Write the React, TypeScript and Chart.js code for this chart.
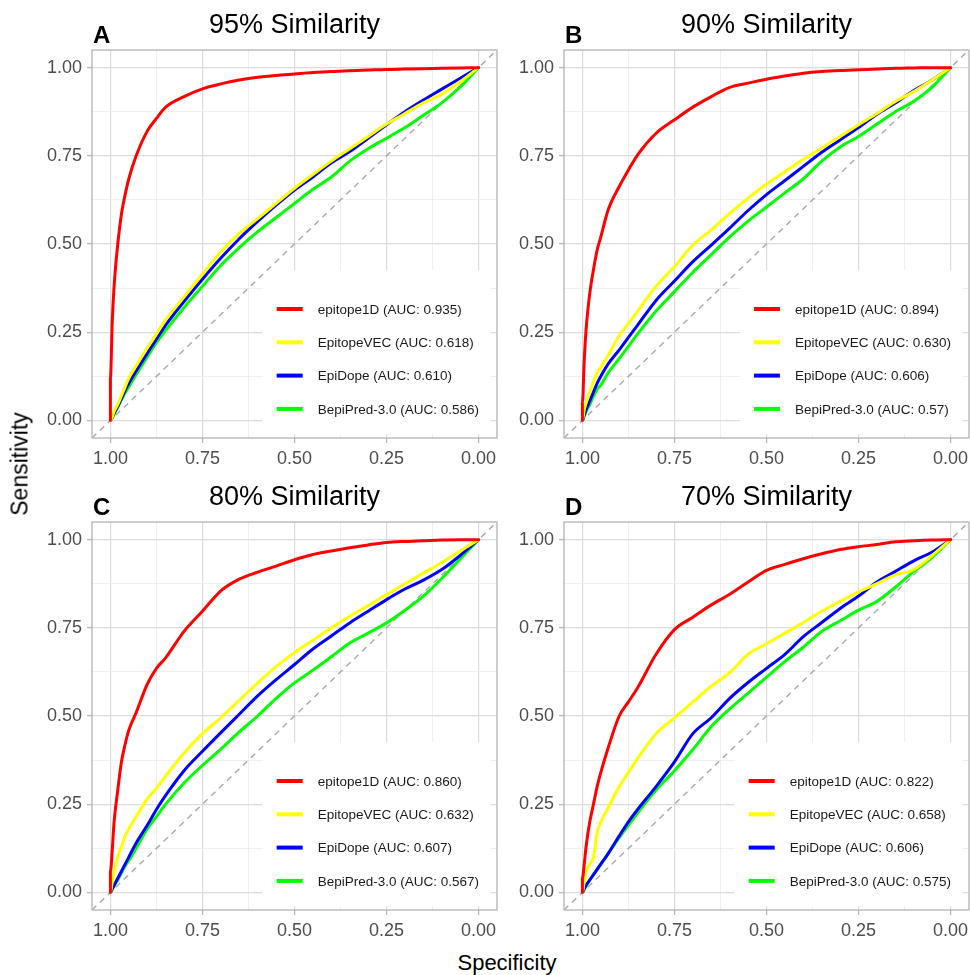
import React, { useEffect, useRef } from 'react';
import { Chart, registerables } from 'chart.js';

Chart.register(...registerables);

// ---------------- data ----------------
const MODELS = ['epitope1D', 'EpitopeVEC', 'EpiDope', 'BepiPred-3.0'];
const TAGS = ['A', 'B', 'C', 'D'];
const TITLES = ['95% Similarity', '90% Similarity', '80% Similarity', '70% Similarity'];

const AUC_A = ['0.935', '0.618', '0.610', '0.586'];
const AUC_B = ['0.894', '0.630', '0.606', '0.57'];
const AUC_C = ['0.860', '0.632', '0.607', '0.567'];
const AUC_D = ['0.822', '0.658', '0.606', '0.575'];

// specificity sampling points (x axis, reversed)
const SPEC = [1, 1, 0.995, 0.99, 0.98, 0.97, 0.96, 0.95, 0.93, 0.9, 0.875, 0.85, 0.8, 0.75, 0.7, 0.65, 0.6, 0.55, 0.5, 0.45, 0.4, 0.35, 0.3, 0.25, 0.2, 0.15, 0.1, 0.05, 0];

// sensitivity values, one per SPEC entry
const A_EPITOPE1D = [0, 0.12, 0.28, 0.38, 0.5, 0.585, 0.64, 0.685, 0.75, 0.82, 0.856, 0.888, 0.918, 0.94, 0.954, 0.965, 0.973, 0.978, 0.982, 0.986, 0.989, 0.991, 0.993, 0.995, 0.996, 0.997, 0.998, 0.999, 1];
const A_EPITOPEVEC = [0, 0, 0.01, 0.025, 0.045, 0.07, 0.095, 0.12, 0.155, 0.205, 0.245, 0.285, 0.35, 0.415, 0.478, 0.53, 0.572, 0.615, 0.658, 0.697, 0.735, 0.77, 0.805, 0.84, 0.87, 0.9, 0.925, 0.96, 1];
const A_EPIDOPE = [0, 0, 0.008, 0.02, 0.04, 0.062, 0.085, 0.105, 0.14, 0.19, 0.23, 0.27, 0.337, 0.4, 0.46, 0.515, 0.564, 0.61, 0.653, 0.69, 0.73, 0.762, 0.8, 0.838, 0.875, 0.908, 0.939, 0.97, 1];
const A_BEPIPRED = [0, 0, 0.007, 0.018, 0.037, 0.058, 0.078, 0.095, 0.13, 0.18, 0.22, 0.255, 0.32, 0.38, 0.44, 0.49, 0.535, 0.575, 0.615, 0.655, 0.69, 0.735, 0.77, 0.8, 0.83, 0.865, 0.9, 0.945, 1];

const B_EPITOPE1D = [0, 0.05, 0.17, 0.257, 0.36, 0.427, 0.483, 0.52, 0.597, 0.663, 0.71, 0.753, 0.814, 0.852, 0.888, 0.918, 0.944, 0.956, 0.967, 0.976, 0.984, 0.989, 0.992, 0.994, 0.996, 0.998, 0.999, 1, 1];
const B_EPITOPEVEC = [0, 0, 0.03, 0.05, 0.08, 0.11, 0.135, 0.15, 0.185, 0.24, 0.275, 0.31, 0.38, 0.436, 0.497, 0.54, 0.587, 0.63, 0.67, 0.705, 0.74, 0.772, 0.805, 0.838, 0.87, 0.904, 0.932, 0.965, 1];
const B_EPIDOPE = [0, 0, 0.015, 0.03, 0.055, 0.08, 0.105, 0.125, 0.16, 0.2, 0.235, 0.27, 0.34, 0.395, 0.45, 0.497, 0.545, 0.595, 0.64, 0.68, 0.72, 0.76, 0.795, 0.83, 0.868, 0.9, 0.935, 0.965, 1];
const B_BEPIPRED = [0, 0, 0.012, 0.025, 0.045, 0.068, 0.088, 0.1, 0.135, 0.175, 0.21, 0.245, 0.31, 0.365, 0.42, 0.47, 0.52, 0.565, 0.605, 0.645, 0.685, 0.735, 0.775, 0.805, 0.84, 0.875, 0.905, 0.945, 1];

const C_EPITOPE1D = [0, 0.06, 0.12, 0.2, 0.29, 0.37, 0.42, 0.46, 0.51, 0.59, 0.635, 0.665, 0.74, 0.797, 0.855, 0.888, 0.908, 0.925, 0.943, 0.958, 0.968, 0.977, 0.985, 0.992, 0.995, 0.997, 0.999, 1, 1];
const C_EPITOPEVEC = [0, 0, 0.03, 0.06, 0.1, 0.13, 0.16, 0.18, 0.215, 0.265, 0.295, 0.33, 0.395, 0.45, 0.495, 0.545, 0.594, 0.64, 0.68, 0.715, 0.75, 0.783, 0.813, 0.844, 0.875, 0.905, 0.935, 0.968, 1];
const C_EPIDOPE = [0, 0, 0.01, 0.02, 0.04, 0.06, 0.08, 0.1, 0.14, 0.19, 0.235, 0.275, 0.345, 0.4, 0.453, 0.505, 0.557, 0.603, 0.646, 0.69, 0.727, 0.764, 0.797, 0.83, 0.86, 0.885, 0.915, 0.955, 1];
const C_BEPIPRED = [0, 0, 0.008, 0.018, 0.035, 0.055, 0.075, 0.09, 0.125, 0.18, 0.215, 0.25, 0.31, 0.36, 0.406, 0.455, 0.5, 0.55, 0.594, 0.63, 0.668, 0.707, 0.735, 0.764, 0.8, 0.84, 0.89, 0.945, 1];

const D_EPITOPE1D = [0, 0.04, 0.08, 0.13, 0.2, 0.25, 0.3, 0.34, 0.41, 0.5, 0.54, 0.58, 0.675, 0.745, 0.78, 0.815, 0.845, 0.88, 0.913, 0.93, 0.946, 0.96, 0.972, 0.98, 0.986, 0.994, 0.997, 0.999, 1];
const D_EPITOPEVEC = [0, 0, 0.03, 0.06, 0.08, 0.1, 0.17, 0.2, 0.24, 0.3, 0.34, 0.38, 0.45, 0.495, 0.54, 0.585, 0.623, 0.675, 0.705, 0.735, 0.765, 0.797, 0.825, 0.852, 0.875, 0.9, 0.915, 0.955, 1];
const D_EPIDOPE = [0, 0, 0.01, 0.02, 0.035, 0.05, 0.065, 0.08, 0.11, 0.16, 0.2, 0.235, 0.3, 0.37, 0.45, 0.495, 0.55, 0.595, 0.635, 0.675, 0.725, 0.765, 0.805, 0.84, 0.88, 0.91, 0.94, 0.965, 1];
const D_BEPIPRED = [0, 0, 0.008, 0.018, 0.035, 0.05, 0.065, 0.08, 0.11, 0.155, 0.19, 0.225, 0.29, 0.345, 0.405, 0.47, 0.52, 0.565, 0.61, 0.655, 0.695, 0.74, 0.77, 0.8, 0.825, 0.865, 0.91, 0.95, 1];

const GRID_TICKS = [0, 0.125, 0.25, 0.375, 0.5, 0.625, 0.75, 0.875, 1];
const AXIS_MIN = -0.05;
const AXIS_MAX = 1.05;

// ---------------- styles / layout ----------------
const FONT = '"Liberation Sans", Arial, Helvetica, sans-serif';
const COLORS = ['#ff0000', '#ffff00', '#0000ff', '#00ff00'];
const CANVAS_W = [500, 498, 500, 498];
const CANVAS_H = 470;
const CANVAS_POS = [
  { left: 0, top: 0 },
  { left: 472, top: 0 },
  { left: 0, top: 472 },
  { left: 472, top: 472 },
];
const PAD_RIGHT = [3, 1, 3, 1];

const isMajor = (v: number) => Math.abs(v * 4 - Math.round(v * 4)) < 1e-6;

type PanelProps = {
  idx: number;
  sens: number[][];
  auc: string[];
};

function Panel({ idx, sens, auc }: PanelProps) {
  const ref = useRef<HTMLCanvasElement | null>(null);

  useEffect(() => {
    const canvas = ref.current;
    if (!canvas) return;
    const labels = MODELS.map((m, i) => `${m} (AUC: ${auc[i]})`);

    const datasets: any[] = MODELS.map((m, i) => ({
      label: labels[i],
      data: SPEC.map((s, j) => ({ x: s, y: sens[i][j] })),
      borderColor: COLORS[i],
      backgroundColor: COLORS[i],
      borderWidth: 3,
      pointRadius: 0,
      cubicInterpolationMode: 'monotone',
      fill: false,
      borderCapStyle: 'round',
      borderJoinStyle: 'round',
    }));
    // chance line: sensitivity = 1 - specificity across the axis range
    datasets.push({
      label: 'chance',
      data: [AXIS_MAX, AXIS_MIN].map((v) => ({ x: v, y: 1 - v })),
      borderColor: '#a8a8a8',
      borderWidth: 1.4,
      borderDash: [6, 5],
      pointRadius: 0,
      fill: false,
    });

    const deco = {
      id: 'deco' + idx,
      beforeDatasetsDraw(chart: any) {
        const { ctx, chartArea: a } = chart;
        ctx.save();
        ctx.font = `13.5px ${FONT}`;
        const tw = Math.max(...labels.map((l) => ctx.measureText(l).width));
        const right = a.right - 6;
        const w = 55 + tw + 12;
        const left = right - w;
        const top = a.bottom - 168;
        const bottom = a.bottom - 4;
        ctx.fillStyle = '#ffffff';
        ctx.fillRect(left, top, w, bottom - top);
        labels.forEach((l, i) => {
          const y = a.bottom - 129 + i * 33.3;
          ctx.strokeStyle = COLORS[i];
          ctx.lineWidth = 4;
          ctx.lineCap = 'butt';
          ctx.beginPath();
          ctx.moveTo(left + 14, y);
          ctx.lineTo(left + 40, y);
          ctx.stroke();
          ctx.fillStyle = '#1a1a1a';
          ctx.textAlign = 'left';
          ctx.textBaseline = 'middle';
          ctx.fillText(l, left + 55, y + 1);
        });
        ctx.restore();
      },
      afterDatasetsDraw(chart: any) {
        const { ctx, chartArea: a } = chart;
        ctx.save();
        ctx.strokeStyle = '#b3b3b3';
        ctx.lineWidth = 1.3;
        ctx.strokeRect(a.left, a.top, a.right - a.left, a.bottom - a.top);
        ctx.restore();
      },
      afterDraw(chart: any) {
        const { ctx, chartArea: a } = chart;
        ctx.save();
        ctx.fillStyle = '#000000';
        ctx.textBaseline = 'alphabetic';
        ctx.textAlign = 'center';
        ctx.font = `27px ${FONT}`;
        ctx.fillText(TITLES[idx], (a.left + a.right) / 2, a.top - 17);
        ctx.textAlign = 'left';
        ctx.font = `bold 24px ${FONT}`;
        ctx.fillText(TAGS[idx], a.left + 1, a.top - 7);
        ctx.restore();
      },
    };

    const gridCfg = {
      color: (c: any) => (c.tick && isMajor(c.tick.value) ? '#dcdcdc' : '#e8e8e8'),
      lineWidth: (c: any) => (c.tick && isMajor(c.tick.value) ? 1.2 : 0.7),
      tickColor: (c: any) => (c.tick && isMajor(c.tick.value) ? '#b3b3b3' : 'rgba(0,0,0,0)'),
      tickWidth: 1.2,
      tickLength: 5,
      drawTicks: true,
      drawOnChartArea: true,
    };
    const tickCfg = {
      autoSkip: false,
      maxRotation: 0,
      minRotation: 0,
      padding: 5,
      color: '#4d4d4d',
      font: { family: FONT, size: 18 },
      callback: (v: any) => (isMajor(Number(v)) ? Number(v).toFixed(2) : ''),
    };

    const chart = new Chart(canvas, {
      type: 'line',
      data: { datasets },
      options: {
        animation: false,
        responsive: false,
        maintainAspectRatio: false,
        events: [],
        layout: { padding: { left: 0, right: PAD_RIGHT[idx], top: 50, bottom: 0 } },
        plugins: {
          legend: { display: false },
          tooltip: { enabled: false },
          title: { display: false },
        },
        scales: {
          x: {
            type: 'linear',
            reverse: true,
            min: AXIS_MIN,
            max: AXIS_MAX,
            afterBuildTicks: (s: any) => {
              s.ticks = GRID_TICKS.map((v) => ({ value: v }));
            },
            afterFit: (s: any) => {
              s.height = 32;
              s.paddingLeft = 0;
              s.paddingRight = 0;
            },
            ticks: tickCfg,
            grid: gridCfg,
            border: { display: false },
          },
          y: {
            type: 'linear',
            min: AXIS_MIN,
            max: AXIS_MAX,
            afterBuildTicks: (s: any) => {
              s.ticks = GRID_TICKS.map((v) => ({ value: v }));
            },
            afterFit: (s: any) => {
              s.width = 92;
              s.paddingTop = 0;
              s.paddingBottom = 0;
            },
            ticks: tickCfg,
            grid: gridCfg,
            border: { display: false },
          },
        },
      } as any,
      plugins: [deco],
    });
    return () => chart.destroy();
  }, [idx, sens, auc]);

  return (
    <canvas
      ref={ref}
      width={CANVAS_W[idx]}
      height={CANVAS_H}
      style={{
        position: 'absolute',
        left: CANVAS_POS[idx].left,
        top: CANVAS_POS[idx].top,
        width: CANVAS_W[idx],
        height: CANVAS_H,
      }}
    />
  );
}

const PANEL_SENS = [
  [A_EPITOPE1D, A_EPITOPEVEC, A_EPIDOPE, A_BEPIPRED],
  [B_EPITOPE1D, B_EPITOPEVEC, B_EPIDOPE, B_BEPIPRED],
  [C_EPITOPE1D, C_EPITOPEVEC, C_EPIDOPE, C_BEPIPRED],
  [D_EPITOPE1D, D_EPITOPEVEC, D_EPIDOPE, D_BEPIPRED],
];
const PANEL_AUC = [AUC_A, AUC_B, AUC_C, AUC_D];

export default function App() {
  return (
    <div
      style={{
        position: 'absolute',
        left: 0,
        top: 0,
        width: 970,
        height: 975,
        background: '#ffffff',
        overflow: 'hidden',
        fontFamily: FONT,
      }}
    >
      {PANEL_SENS.map((s, i) => (
        <Panel key={i} idx={i} sens={s} auc={PANEL_AUC[i]} />
      ))}
      <div
        style={{
          position: 'absolute',
          left: 20,
          top: 464,
          transform: 'translate(-50%, -50%) rotate(-90deg)',
          fontSize: 23,
          whiteSpace: 'nowrap',
          color: '#000',
          lineHeight: 1,
        }}
      >
        Sensitivity
      </div>
      <div
        style={{
          position: 'absolute',
          left: 507,
          top: 963,
          transform: 'translate(-50%, -50%)',
          fontSize: 22,
          whiteSpace: 'nowrap',
          color: '#000',
          lineHeight: 1,
        }}
      >
        Specificity
      </div>
    </div>
  );
}
